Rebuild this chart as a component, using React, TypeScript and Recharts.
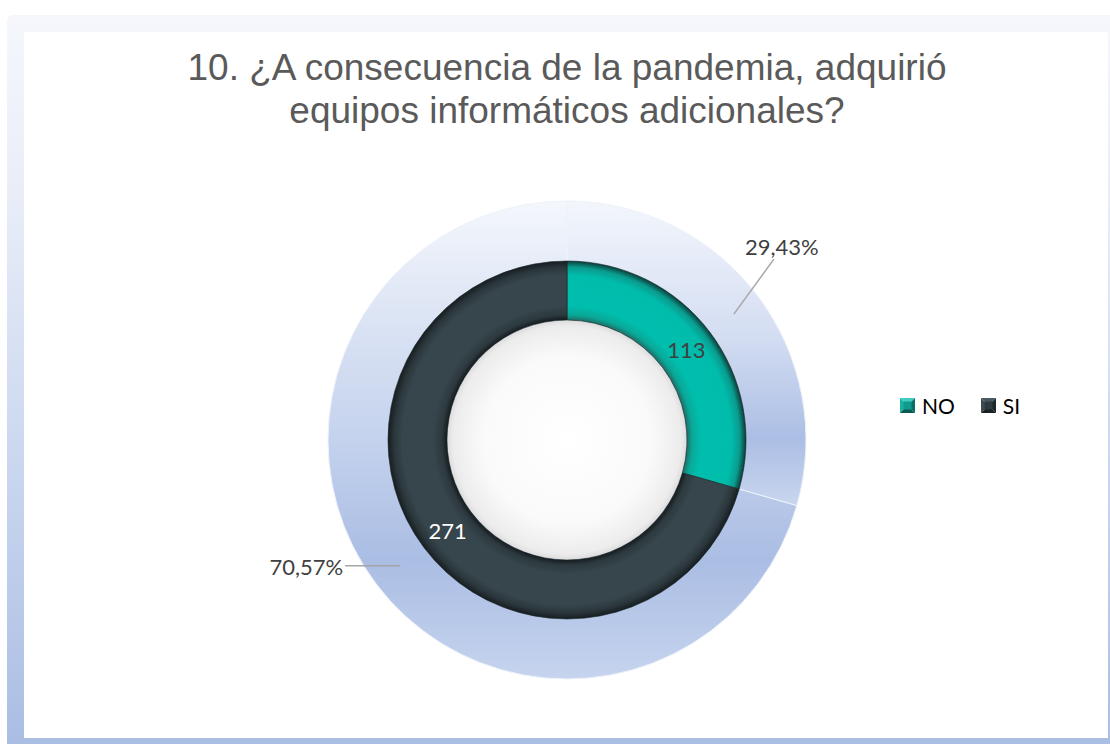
import React from 'react';
import { PieChart, Pie, Cell, Legend } from 'recharts';

// ---- data ----
const categories = ['NO', 'SI'];
const counts = [113, 271];
const titleLines = ['10. ¿A consecuencia de la pandemia, adquirió', 'equipos informáticos adicionales?'];

// ---- layout / style ----
const W = 1110;
const H = 744;
const CX = 567;
const CY = 440;
const DISC_R = 239;
const RING_OUT = 179;
const RING_IN = 120;
const LABEL_FONT = 'Lato, "Open Sans", sans-serif';

const data = categories.map((name, i) => ({ name, value: counts[i] }));
const holeData = [{ name: 'hole', value: 1 }];

const RAD = Math.PI / 180;
const polar = (cx: number, cy: number, r: number, a: number) => ({
  x: cx + r * Math.cos(-a * RAD),
  y: cy + r * Math.sin(-a * RAD),
});
const fmtPct = (p: number) => (p * 100).toFixed(2).replace('.', ',') + '%';

const innerLabelColors = ['#404040', '#ffffff'];
const calloutStyle = [
  { dx: 40, dy: -55, tx: 8, ty: -13, anchor: 'middle' },
  { dx: -55, dy: 0, tx: -2, ty: 1, anchor: 'end' },
];
const ringFills = ['url(#ringNO)', 'url(#ringSI)'];
const discFills = ['url(#discNO)', 'url(#discSI)'];
const markerColors = [
  { top: '#3fcbbd', left: '#17b0a1', right: '#0b6f66', bottom: '#095a53', mid: '#0e9a8d' },
  { top: '#4b5a60', left: '#3d4b51', right: '#1d2629', bottom: '#182023', mid: '#2e3a3f' },
];

const renderLabels = (props: any) => {
  const { cx, cy, midAngle, innerRadius, outerRadius, percent, value, index } = props;
  const mid = polar(cx, cy, (innerRadius + outerRadius) / 2, midAngle);
  const start = polar(cx, cy, (outerRadius + DISC_R) / 2, midAngle);
  const s = calloutStyle[index];
  const end = { x: start.x + s.dx, y: start.y + s.dy };
  return (
    <g key={`lbl-${index}`}>
      <text
        x={mid.x}
        y={mid.y}
        textAnchor="middle"
        dominantBaseline="central"
        fill={innerLabelColors[index]}
        fontFamily={LABEL_FONT}
        fontSize={22}
      >
        {value}
      </text>
      <line x1={start.x} y1={start.y} x2={end.x} y2={end.y} stroke="#a6a6a6" strokeWidth={1.5} />
      <text
        x={end.x + s.tx}
        y={end.y + s.ty}
        textAnchor={s.anchor as any}
        dominantBaseline="central"
        fill="#404040"
        fontFamily={LABEL_FONT}
        fontSize={22}
      >
        {fmtPct(percent)}
      </text>
    </g>
  );
};

const Marker = ({ c }: { c: any }) => (
  <svg width={15} height={15} style={{ display: 'block', marginRight: 7 }}>
    <polygon points="0,0 15,0 7.5,7.5" fill={c.top} />
    <polygon points="0,0 7.5,7.5 0,15" fill={c.left} />
    <polygon points="15,0 15,15 7.5,7.5" fill={c.right} />
    <polygon points="0,15 7.5,7.5 15,15" fill={c.bottom} />
    <rect x={3.5} y={3.5} width={8} height={8} fill={c.mid} />
  </svg>
);

const LegendContent = () => (
  <div
    style={{
      display: 'flex',
      alignItems: 'center',
      height: 24,
      fontFamily: LABEL_FONT,
      fontSize: 21,
      color: '#000',
      whiteSpace: 'nowrap',
    }}
  >
    {categories.map((name, i) => (
      <div key={name} style={{ display: 'flex', alignItems: 'center', marginRight: i === 0 ? 26 : 0 }}>
        <Marker c={markerColors[i]} />
        <span>{name}</span>
      </div>
    ))}
  </div>
);

export default function App() {
  return (
    <div style={{ position: 'fixed', left: 0, top: 0, width: W, height: H, overflow: 'hidden', background: '#fff' }}>
      {/* frame */}
      <div
        style={{
          position: 'absolute',
          left: 7,
          top: 15,
          width: W - 7,
          height: H - 15,
          borderTopLeftRadius: 6,
          background: 'linear-gradient(to bottom, #f5f7fc 0%, #e8edf8 25%, #cfdbf1 55%, #aabde3 100%)',
        }}
      />
      <div style={{ position: 'absolute', left: 24, top: 32, width: 1084, height: 706, background: '#ffffff' }} />
      {/* title */}
      <div
        style={{
          position: 'absolute',
          left: 67,
          top: 46,
          width: 1000,
          textAlign: 'center',
          fontFamily: '"Liberation Sans", Arial, sans-serif',
          fontSize: 37,
          lineHeight: '43px',
          color: '#5a5a5a',
        }}
      >
        {titleLines.map((t) => (
          <div key={t}>{t}</div>
        ))}
      </div>
      <div style={{ position: 'absolute', left: 0, top: 0 }}>
        <PieChart width={W} height={H} margin={{ top: 0, right: 0, bottom: 0, left: 0 }}>
          <defs>
            <linearGradient id="discNO" x1="0" y1="0" x2="0" y2="1">
              <stop offset="0%" stopColor="#f3f6fc" />
              <stop offset="45%" stopColor="#d3ddf2" />
              <stop offset="78%" stopColor="#abbee4" />
              <stop offset="100%" stopColor="#c9d6ef" />
            </linearGradient>
            <linearGradient id="discSI" x1="0" y1="0" x2="0" y2="1">
              <stop offset="0%" stopColor="#f4f7fc" />
              <stop offset="22%" stopColor="#dee6f5" />
              <stop offset="50%" stopColor="#c4d2ed" />
              <stop offset="75%" stopColor="#aabde3" />
              <stop offset="100%" stopColor="#c6d4ee" />
            </linearGradient>
            <radialGradient id="ringNO" gradientUnits="userSpaceOnUse" cx={CX} cy={CY} r={RING_OUT}>
              <stop offset="67%" stopColor="#1d6f67" />
              <stop offset="70%" stopColor="#0aa797" />
              <stop offset="75%" stopColor="#00bead" />
              <stop offset="92%" stopColor="#00bcab" />
              <stop offset="96.5%" stopColor="#0a9b8e" />
              <stop offset="100%" stopColor="#0a3d38" />
            </radialGradient>
            <radialGradient id="ringSI" gradientUnits="userSpaceOnUse" cx={CX} cy={CY} r={RING_OUT}>
              <stop offset="67%" stopColor="#151c1f" />
              <stop offset="70%" stopColor="#2c393e" />
              <stop offset="75%" stopColor="#37464c" />
              <stop offset="92%" stopColor="#37464c" />
              <stop offset="96.5%" stopColor="#2a363b" />
              <stop offset="100%" stopColor="#161d20" />
            </radialGradient>
            <radialGradient id="hole" gradientUnits="userSpaceOnUse" cx={CX} cy={CY} r={RING_IN}>
              <stop offset="0%" stopColor="#ffffff" />
              <stop offset="70%" stopColor="#fafafa" />
              <stop offset="95%" stopColor="#ececec" />
              <stop offset="100%" stopColor="#dcdcdc" />
            </radialGradient>
          </defs>
          <Pie
            data={data}
            dataKey="value"
            nameKey="name"
            cx={CX}
            cy={CY}
            innerRadius={0}
            outerRadius={DISC_R}
            startAngle={90}
            endAngle={-270}
            stroke="#eef2fa"
            strokeWidth={1}
            legendType="none"
            isAnimationActive={false}
          >
            {data.map((d, i) => (
              <Cell key={d.name} fill={discFills[i]} />
            ))}
          </Pie>
          <Pie
            data={holeData}
            dataKey="value"
            cx={CX}
            cy={CY}
            innerRadius={0}
            outerRadius={RING_IN}
            stroke="none"
            legendType="none"
            isAnimationActive={false}
          >
            <Cell fill="url(#hole)" />
          </Pie>
          <Pie
            data={data}
            dataKey="value"
            nameKey="name"
            cx={CX}
            cy={CY}
            innerRadius={RING_IN}
            outerRadius={RING_OUT}
            startAngle={90}
            endAngle={-270}
            stroke="#1a2326"
            strokeWidth={0.6}
            label={renderLabels}
            labelLine={false}
            isAnimationActive={false}
          >
            {data.map((d, i) => (
              <Cell key={d.name} fill={ringFills[i]} />
            ))}
          </Pie>
          <Legend content={<LegendContent />} wrapperStyle={{ left: 900, top: 393, width: 200 }} />
        </PieChart>
      </div>
    </div>
  );
}
